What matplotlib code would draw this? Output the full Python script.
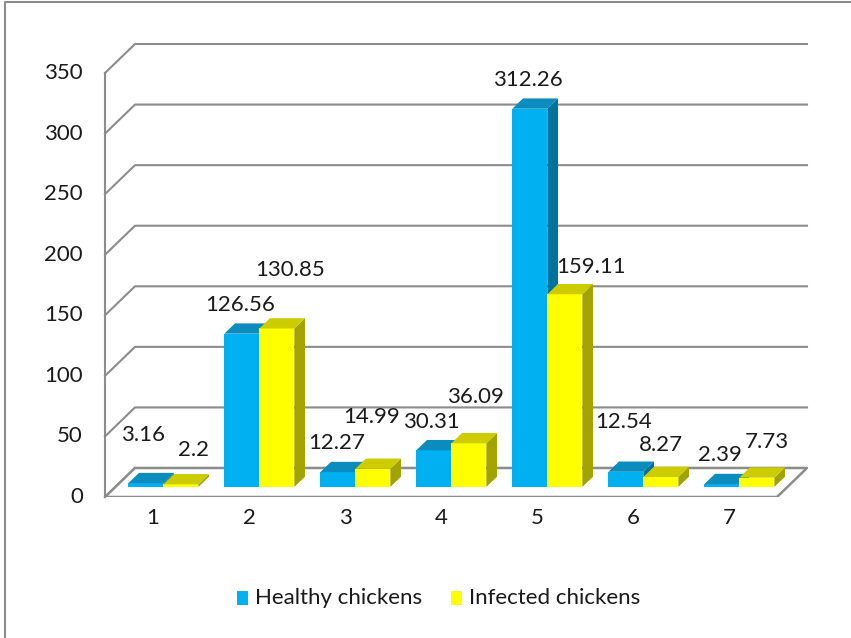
import matplotlib
matplotlib.use("Agg")
import matplotlib.pyplot as plt
from matplotlib.patches import Polygon, Rectangle
from matplotlib.lines import Line2D

# ---------------- data ----------------
categories = ["1", "2", "3", "4", "5", "6", "7"]
healthy = [3.16, 126.56, 12.27, 30.31, 312.26, 12.54, 2.39]
infected = [2.2, 130.85, 14.99, 36.09, 159.11, 8.27, 7.73]
series_names = ["Healthy chickens", "Infected chickens"]
y_ticks = [0, 50, 100, 150, 200, 250, 300, 350]

# ---------------- layout / style ----------------
W, H = 851, 638
FONT = "Lato"
FS = 16
front_cols = ["#00B0F0", "#FFFF00"]
top_cols = ["#0A8CBE", "#CCCC00"]
side_cols = ["#00729C", "#A3A300"]
grid_col = "#8C8C8C"

# label offsets in pixels from the top-front-centre of each bar (layout)
healthy_lbl_off = [(-3, 48), (-2, 29), (-1, 29), (-2, 28), (-2, 29), (-2, 50), (-2, 29)]
infected_lbl_off = [(13, 34), (13, 58), (-1, 52), (7, 46), (26, 27), (0, 32), (10, 36)]

fig = plt.figure(figsize=(W / 100, H / 100), dpi=100)
fig.patch.set_facecolor("white")

px_per_cat = 96.0
px_per_val = 1.2114
ax = fig.add_axes([105 / W, (H - 497) / H, 702 / W, 453 / H])
ax.set_xlim(0.5, 0.5 + 702 / px_per_cat)
ax.set_ylim(0, 453 / px_per_val)
ax.axis("off")

Dx = 30 / px_per_cat      # full depth (data units)
Dy = 29 / px_per_val
n = len(categories)
x0, x1 = 0.5, 0.5 + n
ymax = y_ticks[-1]

# walls / gridlines
for v in y_ticks:
    ax.add_line(Line2D([x0, x0 + Dx, x1 + Dx], [v, v + Dy, v + Dy],
                       color=grid_col, lw=1.5, zorder=1, clip_on=False))
ax.add_line(Line2D([x0, x0], [0, ymax], color=grid_col, lw=1.5, zorder=1, clip_on=False))
# floor
floor = Polygon([[x0, 0], [x1, 0], [x1 + Dx, Dy], [x0 + Dx, Dy]], closed=True,
                facecolor="white", edgecolor=grid_col, lw=1.8, zorder=2)
ax.add_patch(floor)

# bars
t0, t1 = 0.345, 0.70
bw = 35 / px_per_cat
fdx, fdy = t0 * Dx, t0 * Dy
ddx, ddy = (t1 - t0) * Dx, (t1 - t0) * Dy
series = [healthy, infected]
offsets = [healthy_lbl_off, infected_lbl_off]
z = 3
for i in range(n):
    cx = i + 1
    for s, vals in enumerate(series):
        v = vals[i]
        left = cx + fdx - bw + s * bw
        right = left + bw
        bot = fdy
        top = fdy + v
        front = Polygon([[left, bot], [right, bot], [right, top], [left, top]],
                        closed=True, facecolor=front_cols[s], edgecolor="none", zorder=z)
        topf = Polygon([[left, top], [right, top], [right + ddx, top + ddy], [left + ddx, top + ddy]],
                       closed=True, facecolor=top_cols[s], edgecolor="none", zorder=z)
        side = Polygon([[right, bot], [right + ddx, bot + ddy], [right + ddx, top + ddy], [right, top]],
                       closed=True, facecolor=side_cols[s], edgecolor="none", zorder=z)
        for p in (side, front, topf):
            ax.add_patch(p)
        z += 1
        ox, oy = offsets[s][i]
        ax.annotate(f"{v:g}", xy=((left + right) / 2, top), xytext=(ox, oy),
                    textcoords="offset pixels", ha="center", va="center",
                    fontsize=FS, family=FONT, color="#1a1a1a", zorder=50,
                    annotation_clip=False)

# y tick labels
for v in y_ticks:
    ax.annotate(str(v), xy=(x0, v), xytext=(-22, 0), textcoords="offset pixels",
                ha="right", va="center", fontsize=FS, family=FONT, color="#1a1a1a",
                annotation_clip=False)
# category labels
for i, c in enumerate(categories):
    ax.annotate(c, xy=(i + 1, 0), xytext=(0, -21), textcoords="offset pixels",
                ha="center", va="center", fontsize=FS, family=FONT, color="#1a1a1a",
                annotation_clip=False)

# legend
leg_items = [(237, front_cols[0], series_names[0]), (451, front_cols[1], series_names[1])]
for lx, col, name in leg_items:
    fig.add_artist(Rectangle((lx / W, 1 - 605 / H), 11 / W, 14 / H,
                             transform=fig.transFigure, facecolor=col, edgecolor="none"))
    fig.text((lx + 18) / W, 1 - 598 / H, name, ha="left", va="center",
             fontsize=FS, family=FONT, color="#1a1a1a")

# outer border (left and top visible)
fig.add_artist(Line2D([5 / W, 5 / W, 1.0], [0.0, 1 - 2 / H, 1 - 2 / H],
                      transform=fig.transFigure, color="#8C8C8C", lw=1.5))

fig.savefig("out.png", dpi=100)
